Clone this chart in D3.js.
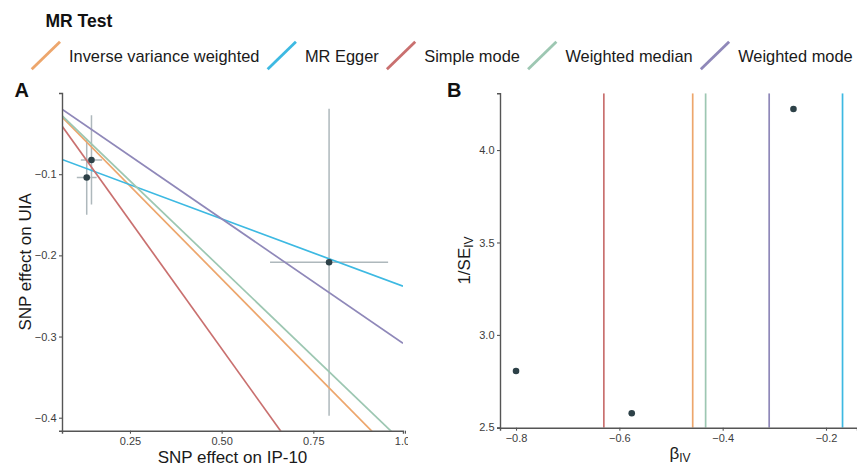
<!DOCTYPE html>
<html>
<head>
<meta charset="utf-8">
<script src="https://cdn.jsdelivr.net/npm/d3@7"></script>
<style>
  html, body { margin: 0; padding: 0; background: #fff; }
  svg { display: block; font-family: "Liberation Sans", Arial, sans-serif; }
</style>
</head>
<body>
<svg id="chart" width="857" height="469"></svg>
<script>
// ---- data ----
const methods = ["Inverse variance weighted", "MR Egger", "Simple mode", "Weighted median", "Weighted mode"];
const methodColors = ["#EDA66C", "#3DB9E2", "#C9706F", "#9DC7B2", "#8F88B9"];
const slopes = [-0.458, -0.168, -0.630, -0.433, -0.310];
const intercepts = [0, -0.071, 0, 0, 0];

const snpBetaX = [0.145, 0.132, 0.793];
const snpSeX = [0.029, 0.027, 0.161];
const snpBetaY = [-0.0825, -0.104, -0.2085];
const snpSeY = [0.055, 0.046, 0.189];

const ivBeta = [-0.576, -0.800, -0.263];
const ivInvSe = [2.576, 2.805, 4.222];

const ticksAX = [0.25, 0.50, 0.75, 1.00];
const ticksAY = [-0.1, -0.2, -0.3, -0.4];
const ticksBX = [-0.8, -0.6, -0.4, -0.2];
const ticksBY = [2.5, 3.0, 3.5, 4.0];

// ---- drawing ----
const svg = d3.select("#chart");
const axisColor = "#555555";
const tickTextColor = "#3d3d3d";
const errColor = "#AEB8BC";
const pointColor = "#2D4148";

// Legend
svg.append("text").attr("x", 45.5).attr("y", 26.7)
  .attr("font-size", 17.5).attr("font-weight", "bold").attr("fill", "#111").text("MR Test");

let lx = 31.7;
methods.forEach((m, i) => {
  svg.append("line").attr("x1", lx).attr("y1", 69.3).attr("x2", lx + 28.3).attr("y2", 41.7)
    .attr("stroke", methodColors[i]).attr("stroke-width", 2.8);
  const t = svg.append("text").attr("x", lx + 37.3).attr("y", 62.3)
    .attr("font-size", 16.4).attr("fill", "#1a1a1a").text(m);
  const w = t.node().getComputedTextLength();
  lx = lx + 37.3 + w + 8.2;
});

// ---------- Panel A ----------
const A = { left: 62, right: 403, top: 93, bottom: 430.7 };
const xA = d3.scaleLinear().domain([0.0646, 0.9946]).range([A.left, A.right]);
const yA = d3.scaleLinear().domain([-0.416, 0.0]).range([A.bottom, A.top]);

svg.append("defs").append("clipPath").attr("id", "clipA")
  .append("rect").attr("x", A.left).attr("y", A.top).attr("width", A.right - A.left).attr("height", A.bottom - A.top);
svg.select("defs").append("clipPath").attr("id", "clipAfull")
  .append("rect").attr("x", 0).attr("y", 0).attr("width", 408).attr("height", 469);
svg.select("defs").append("clipPath").attr("id", "clipB")
  .append("rect").attr("x", 500).attr("y", 93.3).attr("width", 357).attr("height", 427.7 - 93.3);

const gA = svg.append("g").attr("clip-path", "url(#clipAfull)");

svg.append("text").attr("x", 14.5).attr("y", 96.7).attr("font-size", 20).attr("font-weight", "bold")
  .attr("fill", "#111").text("A");

const plotA = gA.append("g").attr("clip-path", "url(#clipA)");
// error bars
snpBetaX.forEach((bx, i) => {
  plotA.append("line").attr("x1", xA(bx)).attr("x2", xA(bx))
    .attr("y1", yA(snpBetaY[i] + snpSeY[i])).attr("y2", yA(snpBetaY[i] - snpSeY[i]))
    .attr("stroke", errColor).attr("stroke-width", 1.5);
  plotA.append("line").attr("y1", yA(snpBetaY[i])).attr("y2", yA(snpBetaY[i]))
    .attr("x1", xA(bx - snpSeX[i])).attr("x2", xA(bx + snpSeX[i]))
    .attr("stroke", errColor).attr("stroke-width", 1.5);
});
// method lines
const xd = xA.domain();
methods.forEach((m, i) => {
  plotA.append("line")
    .attr("x1", xA(xd[0])).attr("y1", yA(intercepts[i] + slopes[i] * xd[0]))
    .attr("x2", xA(xd[1])).attr("y2", yA(intercepts[i] + slopes[i] * xd[1]))
    .attr("stroke", methodColors[i]).attr("stroke-width", 1.7);
});
// points
snpBetaX.forEach((bx, i) => {
  plotA.append("circle").attr("cx", xA(bx)).attr("cy", yA(snpBetaY[i])).attr("r", 3.3).attr("fill", pointColor);
});

function styleAxis(g) {
  g.select(".domain").attr("stroke", axisColor).attr("stroke-width", 1.4);
  g.selectAll(".tick line").attr("stroke", axisColor).attr("stroke-width", 1.1);
  g.selectAll(".tick text").attr("fill", tickTextColor).attr("font-size", 11)
    .attr("font-family", "Liberation Sans, Arial, sans-serif");
}

const axAx = gA.append("g").attr("transform", `translate(0,${A.bottom})`)
  .call(d3.axisBottom(xA).tickValues(ticksAX).tickFormat(d3.format(".2f")).tickSizeOuter(0).tickSize(3).tickPadding(3.5));
styleAxis(axAx);
const axAy = gA.append("g").attr("transform", `translate(${A.left},0)`)
  .call(d3.axisLeft(yA).tickValues(ticksAY).tickFormat(d3.format(".1f")).tickSizeOuter(0).tickSize(3).tickPadding(2.5));
styleAxis(axAy);

gA.append("text").attr("x", 232.5).attr("y", 462.7).attr("text-anchor", "middle")
  .attr("font-size", 17).attr("fill", "#1a1a1a").text("SNP effect on IP-10");
gA.append("text").attr("transform", `translate(31,${(A.top + A.bottom) / 2}) rotate(-90)`)
  .attr("text-anchor", "middle").attr("font-size", 17).attr("fill", "#1a1a1a").text("SNP effect on UIA");

// ---------- Panel B ----------
const B = { left: 500, right: 857, top: 93.3, bottom: 427.7 };
const xB = d3.scaleLinear().domain([-0.831, -0.140]).range([B.left, B.right]);
const yB = d3.scaleLinear().domain([2.498, 4.307]).range([B.bottom, B.top]);

svg.append("text").attr("x", 447).attr("y", 96.7).attr("font-size", 20).attr("font-weight", "bold")
  .attr("fill", "#111").text("B");

const plotB = svg.append("g").attr("clip-path", "url(#clipB)");
methods.forEach((m, i) => {
  plotB.append("line").attr("x1", xB(slopes[i])).attr("x2", xB(slopes[i]))
    .attr("y1", B.top).attr("y2", B.bottom)
    .attr("stroke", methodColors[i]).attr("stroke-width", 1.7);
});
ivBeta.forEach((b, i) => {
  plotB.append("circle").attr("cx", xB(b)).attr("cy", yB(ivInvSe[i])).attr("r", 3.3).attr("fill", pointColor);
});

const axBx = svg.append("g").attr("transform", `translate(0,${B.bottom})`)
  .call(d3.axisBottom(xB).tickValues(ticksBX).tickFormat(d3.format(".1f")).tickSizeOuter(0).tickSize(3).tickPadding(3.5));
styleAxis(axBx);
const axBy = svg.append("g").attr("transform", `translate(${B.left},0)`)
  .call(d3.axisLeft(yB).tickValues(ticksBY).tickFormat(d3.format(".1f")).tickSizeOuter(0).tickSize(3).tickPadding(2.5));
styleAxis(axBy);

// x label beta_IV
const bl = svg.append("text").attr("x", 680).attr("y", 459).attr("text-anchor", "middle")
  .attr("font-size", 17).attr("fill", "#1a1a1a");
bl.append("tspan").text("β");
bl.append("tspan").attr("font-size", 12).attr("dy", 3).text("IV");

const yl = svg.append("text").attr("transform", `translate(470,${(B.top + B.bottom) / 2}) rotate(-90)`)
  .attr("text-anchor", "middle").attr("font-size", 17).attr("fill", "#1a1a1a");
yl.append("tspan").text("1/SE");
yl.append("tspan").attr("font-size", 12).attr("dy", 3).text("IV");
</script>
</body>
</html>
